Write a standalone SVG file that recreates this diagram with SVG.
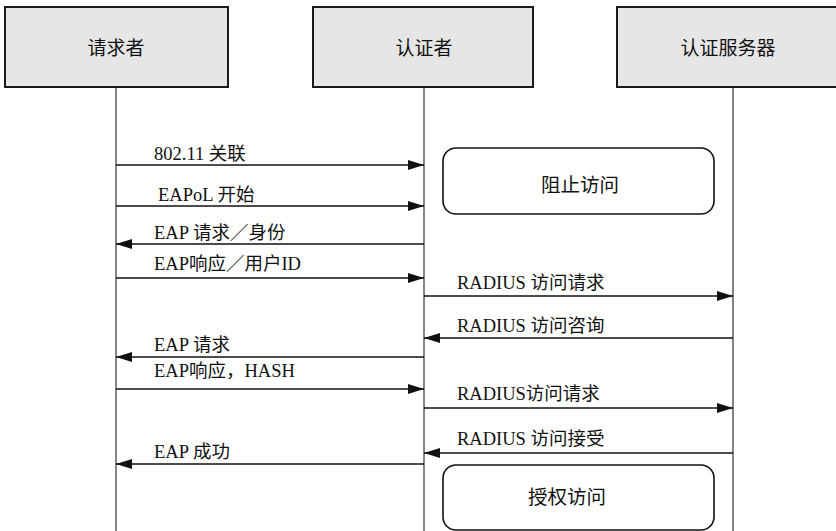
<svg xmlns="http://www.w3.org/2000/svg" width="836" height="531" viewBox="0 0 836 531">
<style>
.box{fill:#e6e6e6;stroke:#1a1a1a;stroke-width:2}
.hdr{font-family:"Liberation Serif","Noto Sans CJK SC",serif;font-size:19px;fill:#111;text-anchor:middle}
.life{stroke:#333;stroke-width:1.2}
.msg{stroke:#111;stroke-width:1.3;fill:none}
.lbl{font-family:"Liberation Serif","Noto Sans CJK SC",serif;font-size:18.5px;fill:#111}
.state{fill:#fff;stroke:#111;stroke-width:1.6}
.st{font-family:"Liberation Serif","Noto Sans CJK SC",serif;font-size:19.5px;fill:#111;text-anchor:middle}
</style>
<defs>
<marker id="ah" viewBox="0 0 16 10" refX="16" refY="5" markerWidth="16" markerHeight="10" markerUnits="userSpaceOnUse" orient="auto">
<path d="M0,0 L16,5 L0,10 Z" fill="#111"/>
</marker>
</defs>
<rect width="836" height="531" fill="#fff"/>
<g id="lifelines">
<line class="life" x1="116" y1="87" x2="116" y2="531"/>
<line class="life" x1="424" y1="87" x2="424" y2="531"/>
<line class="life" x1="733" y1="87" x2="733" y2="531"/>
</g>
<g id="supplicant">
<rect class="box" x="5" y="7" width="223" height="80"/>
<text class="hdr" x="116" y="55">请求者</text>
</g>
<g id="authenticator">
<rect class="box" x="313" y="7" width="220" height="80"/>
<text class="hdr" x="424" y="55">认证者</text>
</g>
<g id="server">
<rect class="box" x="617" y="7" width="222" height="80"/>
<text class="hdr" x="728" y="55">认证服务器</text>
</g>
<g id="block">
<rect class="state" x="443" y="148" width="271" height="66" rx="13"/>
<text class="st" x="580" y="192">阻止访问</text>
</g>
<g id="grant">
<rect class="state" x="443" y="465" width="271" height="65" rx="13"/>
<text class="st" x="567" y="504">授权访问</text>
</g>
<g id="connectors">
<line class="msg" x1="116" y1="165" x2="424" y2="165" marker-end="url(#ah)"/>
<line class="msg" x1="116" y1="206" x2="424" y2="206" marker-end="url(#ah)"/>
<line class="msg" x1="424" y1="244" x2="116" y2="244" marker-end="url(#ah)"/>
<line class="msg" x1="116" y1="278" x2="424" y2="278" marker-end="url(#ah)"/>
<line class="msg" x1="424" y1="296" x2="733" y2="296" marker-end="url(#ah)"/>
<line class="msg" x1="733" y1="338" x2="424" y2="338" marker-end="url(#ah)"/>
<line class="msg" x1="424" y1="357" x2="116" y2="357" marker-end="url(#ah)"/>
<line class="msg" x1="116" y1="389" x2="424" y2="389" marker-end="url(#ah)"/>
<line class="msg" x1="424" y1="408" x2="733" y2="408" marker-end="url(#ah)"/>
<line class="msg" x1="733" y1="453" x2="424" y2="453" marker-end="url(#ah)"/>
<line class="msg" x1="424" y1="464" x2="116" y2="464" marker-end="url(#ah)"/>
</g>
<g id="labels">
<text class="lbl" x="154" y="160">802.11 关联</text>
<text class="lbl" x="158" y="201">EAPoL 开始</text>
<text class="lbl" x="154" y="239">EAP 请求／身份</text>
<text class="lbl" x="154" y="270">EAP响应／用户ID</text>
<text class="lbl" x="457" y="289">RADIUS 访问请求</text>
<text class="lbl" x="457" y="332">RADIUS 访问咨询</text>
<text class="lbl" x="154" y="351">EAP 请求</text>
<text class="lbl" x="154" y="377">EAP响应，HASH</text>
<text class="lbl" x="457" y="400">RADIUS访问请求</text>
<text class="lbl" x="457" y="445">RADIUS 访问接受</text>
<text class="lbl" x="154" y="458">EAP 成功</text>
</g>
</svg>
